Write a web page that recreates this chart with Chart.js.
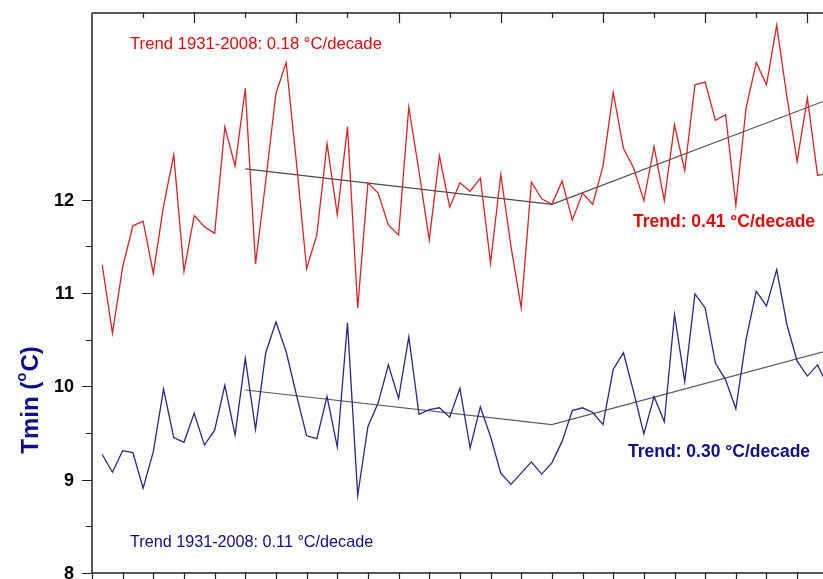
<!DOCTYPE html>
<html><head><meta charset="utf-8">
<script src="https://cdn.jsdelivr.net/npm/chart.js@4/dist/chart.umd.min.js"></script>
<style>html,body{margin:0;padding:0;background:#fff;overflow:hidden}#wrap{width:823px;height:579px;position:relative}</style>
</head><body><div id="wrap"><canvas id="c" width="823" height="579"></canvas></div>
<script>
const years = [1931,1932,1933,1934,1935,1936,1937,1938,1939,1940,1941,1942,1943,1944,1945,1946,1947,1948,1949,1950,
  1951,1952,1953,1954,1955,1956,1957,1958,1959,1960,1961,1962,1963,1964,1965,1966,1967,1968,1969,1970,
  1971,1972,1973,1974,1975,1976,1977,1978,1979,1980,1981,1982,1983,1984,1985,1986,1987,1988,1989,1990,
  1991,1992,1993,1994,1995,1996,1997,1998,1999,2000,2001,2002];
const redTmin = [11.30,10.57,11.28,11.72,11.77,11.21,11.93,12.48,11.23,11.83,11.71,11.64,12.78,12.36,13.19,11.31,12.20,13.14,13.47,12.40,
  11.26,11.62,12.60,11.84,12.78,10.84,12.18,12.07,11.73,11.62,12.99,12.30,11.57,12.47,11.92,12.18,12.09,12.23,11.32,12.27,
  11.50,10.84,12.19,12.01,11.95,12.20,11.78,12.07,11.95,12.36,13.15,12.55,12.34,11.99,12.57,11.99,12.80,12.31,13.23,13.26,
  12.85,12.91,11.94,12.98,13.47,13.23,13.87,13.10,12.41,13.09,12.26,12.28];
const blueTmin = [9.27,9.08,9.31,9.29,8.91,9.30,9.97,9.45,9.40,9.71,9.37,9.53,10.01,9.48,10.30,9.54,10.36,10.69,10.37,9.91,
  9.47,9.44,9.89,9.35,10.68,8.83,9.57,9.82,10.23,9.87,10.53,9.70,9.75,9.77,9.67,9.98,9.34,9.78,9.46,9.07,
  8.95,9.07,9.19,9.06,9.18,9.41,9.74,9.77,9.72,9.59,10.18,10.36,9.94,9.49,9.89,9.62,10.77,10.05,10.99,10.84,
  10.25,10.07,9.76,10.50,11.02,10.86,11.25,10.66,10.27,10.11,10.23,10.00];
const trendYears = [1945, 1975, 2008];
const redTrend = [12.33, 11.95, 13.32];
const blueTrend = [9.96, 9.59, 10.56];
const yTickLabels = [8, 9, 10, 11, 12];
const yMinorTicks = [8.5, 9.5, 10.5, 11.5];
const topTickYears = [1935,1940,1945,1950,1955,1960,1965,1970,1975,1980,1985,1990,1995,2000];
const bottomTickYears = [1930,1933,1936,1939,1942,1945,1948,1951,1954,1957,1960,1963,1966,1969,1972,1975,1978,1981,1984,1987,1990,1993,1996,1999];
const labels = {
  redAll: 'Trend 1931-2008: 0.18 \u00B0C/decade',
  redRecent: 'Trend: 0.41 \u00B0C/decade',
  blueAll: 'Trend 1931-2008: 0.11 \u00B0C/decade',
  blueRecent: 'Trend: 0.30 \u00B0C/decade'
};

const FONT = '"Liberation Sans", Arial, sans-serif';
const RED_TXT = '#e00a0a', BLUE_TXT = '#0c0c8c';

const frame = {
  id: 'frame',
  afterDraw(chart) {
    const c = chart.ctx, a = chart.chartArea, xs = chart.scales.x, ys = chart.scales.y;
    c.save();
    c.strokeStyle = '#222'; c.lineWidth = 1.5;
    c.beginPath();
    c.moveTo(a.left, a.top); c.lineTo(a.right + 2, a.top);
    c.moveTo(a.left, a.top); c.lineTo(a.left, a.bottom);
    c.moveTo(a.left, a.bottom); c.lineTo(a.right + 2, a.bottom);
    c.stroke();
    c.lineWidth = 1.2;
    c.beginPath();
    yTickLabels.forEach(v => { const y = Math.round(ys.getPixelForValue(v)) + 0.5; c.moveTo(a.left - 10, y); c.lineTo(a.left, y); });
    yMinorTicks.forEach(v => { const y = Math.round(ys.getPixelForValue(v)) + 0.5; c.moveTo(a.left - 6, y); c.lineTo(a.left, y); });
    topTickYears.forEach(yr => { const x = Math.round(xs.getPixelForValue(yr)) + 0.5; const len = yr % 10 === 0 ? 10 : 5; c.moveTo(x, a.top); c.lineTo(x, a.top + len); });
    bottomTickYears.forEach(yr => { const x = Math.round(xs.getPixelForValue(yr)) + 0.5; c.moveTo(x, a.bottom); c.lineTo(x, a.bottom + 10); });
    c.stroke();
    c.fillStyle = '#000'; c.font = 'bold 18px ' + FONT; c.textAlign = 'right'; c.textBaseline = 'middle';
    yTickLabels.forEach(v => c.fillText(String(v), 74, ys.getPixelForValue(v) + 1));
    c.textAlign = 'left'; c.textBaseline = 'middle';
    c.fillStyle = RED_TXT; c.font = '16.7px ' + FONT; c.fillText(labels.redAll, 130, 44);
    c.font = 'bold 17.5px ' + FONT; c.fillText(labels.redRecent, 633, 222);
    c.fillStyle = BLUE_TXT; c.font = 'bold 17.5px ' + FONT; c.fillText(labels.blueRecent, 628, 452);
    c.font = '16.2px ' + FONT; c.fillText(labels.blueAll, 130, 543);
    c.translate(38, 400); c.rotate(-Math.PI / 2);
    c.fillStyle = BLUE_TXT;
    const big = 'bold 24px ' + FONT, small = 'bold 15px ' + FONT;
    c.font = big; const w1 = c.measureText('Tmin (').width, w3 = c.measureText('C)').width;
    c.font = small; const w2 = c.measureText('o').width + 1;
    let x0 = -(w1 + w2 + w3) / 2;
    c.textBaseline = 'alphabetic';
    c.font = big; c.fillText('Tmin (', x0, 0);
    c.font = small; c.fillText('o', x0 + w1, -12);
    c.font = big; c.fillText('C)', x0 + w1 + w2, 0);
    c.restore();
  }
};

const pts = (xsArr, vs) => xsArr.map((x, i) => ({ x: x, y: vs[i] }));
new Chart(document.getElementById('c'), {
  type: 'line',
  data: { datasets: [
    { data: pts(years, redTmin), borderColor: '#d82424', borderWidth: 1.3, pointRadius: 0, tension: 0 },
    { data: pts(years, blueTmin), borderColor: '#27278f', borderWidth: 1.3, pointRadius: 0, tension: 0 },
    { data: pts(trendYears, redTrend), borderColor: '#4a4a4a', borderWidth: 1.1, pointRadius: 0, tension: 0 },
    { data: pts(trendYears, blueTrend), borderColor: '#5a5a5a', borderWidth: 1.1, pointRadius: 0, tension: 0 }
  ]},
  options: {
    responsive: false, animation: false, devicePixelRatio: 1,
    layout: { padding: { left: 92, top: 13, right: 0, bottom: 6 } },
    scales: {
      x: { type: 'linear', min: 1930, max: 2001.53, display: false },
      y: { type: 'linear', min: 8, max: 14, display: false }
    },
    plugins: { legend: { display: false }, tooltip: { enabled: false } }
  },
  plugins: [frame]
});
</script></body></html>
